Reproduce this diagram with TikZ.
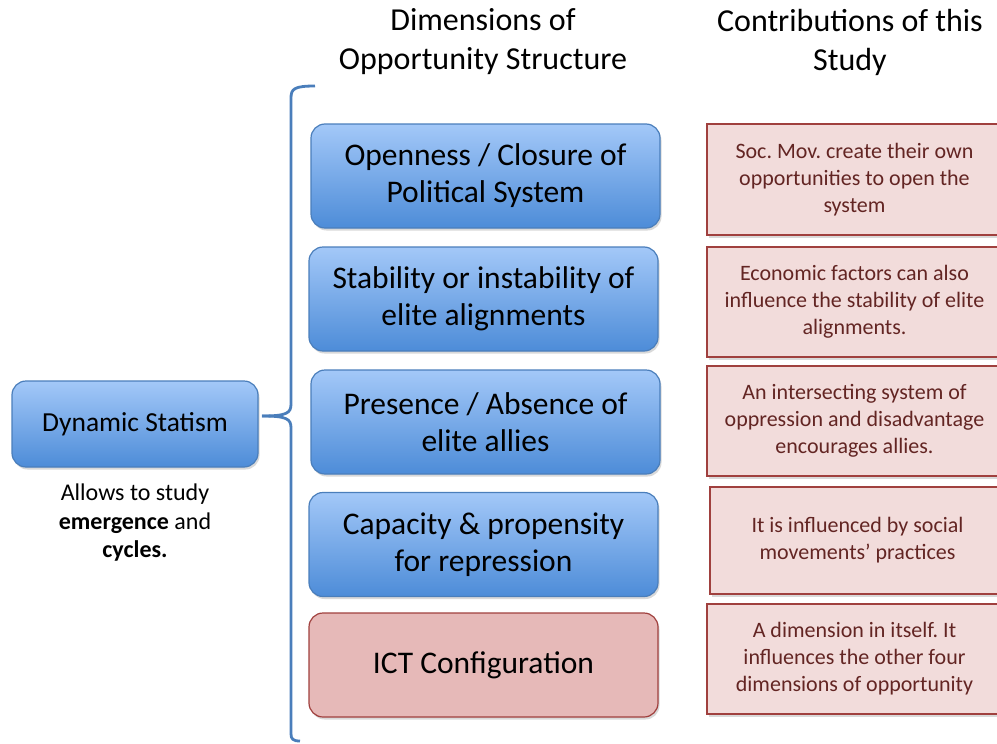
\documentclass[tikz,border=0pt]{standalone}
\usepackage{fontspec}
\setmainfont{Carlito}
\frenchspacing
\usetikzlibrary{shadows}
\definecolor{dimtop}{HTML}{A3C8F8}
\definecolor{dimbot}{HTML}{4D8CD8}
\definecolor{dimline}{HTML}{4A7EBB}
\definecolor{contfill}{HTML}{F2DCDB}
\definecolor{ictfill}{HTML}{E6B9B8}
\definecolor{redline}{HTML}{A0403E}
\definecolor{redtext}{HTML}{632523}
\begin{document}
\begin{tikzpicture}[x=1pt,y=-1pt,
    shade/.style={drop shadow={opacity=0.3,shadow xshift=1.5pt,shadow yshift=-2.5pt}},
    dimbox/.style={shade,draw=dimline,line width=1.2pt,rounded corners=14pt,top color=dimtop,bottom color=dimbot,minimum width=349pt,minimum height=104pt,align=center,font=\fontsize{31.5}{37}\selectfont},
    ictbox/.style={shade,draw=redline,line width=1.2pt,rounded corners=14pt,fill=ictfill,minimum width=349pt,minimum height=104pt,align=center,font=\fontsize{31.5}{37}\selectfont},
    contbox/.style={shade,draw=redline,line width=1.2pt,fill=contfill,text=redtext,minimum width=295pt,minimum height=110pt,align=center,font=\fontsize{22}{27}\selectfont},
    header/.style={align=center,font=\fontsize{32}{39}\selectfont},
    bracket/.style={draw=dimline,line width=2.8pt}]
    \useasboundingbox (0,0) rectangle (997,744);

    \node[header](dimHead) at (483,42) {Dimensions of\\Opportunity Structure};
    \node[header](contHead) at (850,42) {Contributions of this\\Study};

    \node[dimbox,minimum width=246pt,minimum height=86pt,font=\fontsize{27.5}{30}\selectfont](dynamic) at (135,424) {Dynamic Statism};
    \node[align = center,font=\fontsize{24}{28.5}\selectfont](allows) at (135,523) {Allows to study\\\textbf{emergence} and\\\textbf{cycles.}};

    \node[dimbox](openness) at (485.5,176) {Openness / Closure of\\Political System};
    \node[dimbox](stability) at (483.5,299) {Stability or instability of\\elite alignments};
    \node[dimbox](presence) at (485.5,422) {Presence / Absence of\\elite allies};
    \node[dimbox](capacity) at (483.5,544.5) {Capacity \& propensity\\for repression};
    \node[ictbox](ict) at (483.5,665) {ICT Configuration};

    \node[contbox,minimum height=111pt](contOpen) at (854.5,179.5) {Soc. Mov. create their own\\opportunities to open the\\system};
    \node[contbox](contStab) at (854.5,302) {Economic factors can also\\influence the stability of elite\\alignments.};
    \node[contbox](contPres) at (854.5,421) {An intersecting system of\\oppression and disadvantage\\encourages allies.};
    \node[contbox,minimum height=107pt](contCapa) at (857.5,540.5) {It is influenced by social\\movements’ practices};
    \node[contbox](contIct) at (854.5,659) {A dimension in itself. It\\influences the other four\\dimensions of opportunity};

    % bracket grouping the dimensions
    \coordinate (tip) at (262,416);
    \draw[bracket] (315,86) .. controls (294,86) and (291,89) .. (291,98) -- (291,404) .. controls (291,413) and (287,416) .. (tip);
    \draw[bracket] (tip) .. controls (287,416) and (291,419) .. (291,428) -- (291,734) .. controls (291,739) and (293,741) .. (300,741);
\end{tikzpicture}
\end{document}
